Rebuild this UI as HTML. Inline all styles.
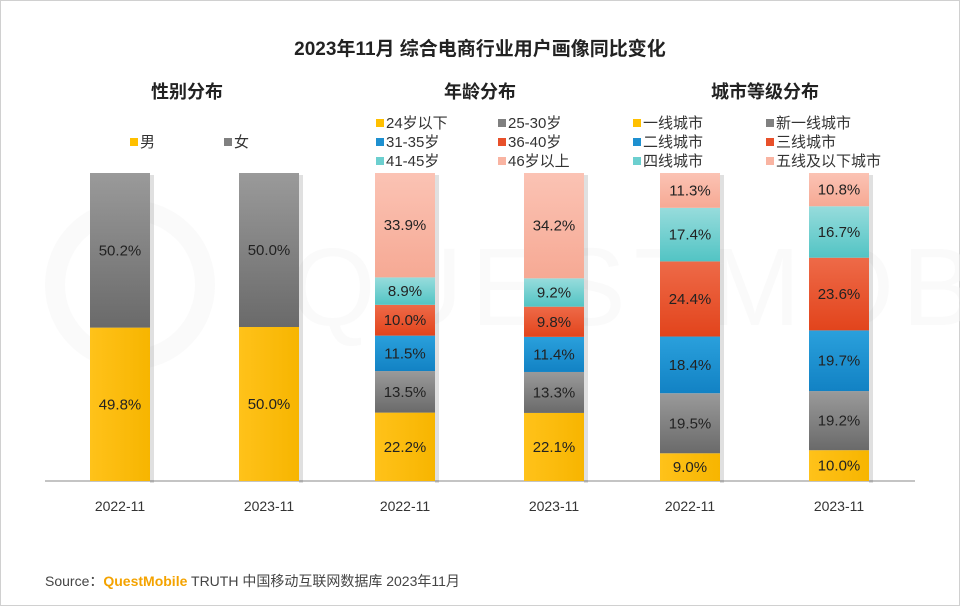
<!DOCTYPE html>
<html><head><meta charset="utf-8">
<style>
body{margin:0;background:#fff;}
svg{display:block;font-family:"Liberation Sans","Noto Sans CJK SC",sans-serif;}
</style></head>
<body>
<svg id="c" width="960" height="606" xmlns="http://www.w3.org/2000/svg">
<defs>
<linearGradient id="gY" x1="0" y1="0" x2="1" y2="0"><stop offset="0" stop-color="#FFC21A"/><stop offset="1" stop-color="#F7B500"/></linearGradient>
<linearGradient id="gG" x1="0" y1="0" x2="0" y2="1"><stop offset="0" stop-color="#9a9a9a"/><stop offset="1" stop-color="#6a6a6a"/></linearGradient>
<linearGradient id="gB" x1="0" y1="0" x2="0" y2="1"><stop offset="0" stop-color="#2aa0dc"/><stop offset="1" stop-color="#1282c4"/></linearGradient>
<linearGradient id="gR" x1="0" y1="0" x2="0" y2="1"><stop offset="0" stop-color="#ee6a48"/><stop offset="1" stop-color="#e2441c"/></linearGradient>
<linearGradient id="gT" x1="0" y1="0" x2="0" y2="1"><stop offset="0" stop-color="#97dcdc"/><stop offset="1" stop-color="#52c4c4"/></linearGradient>
<linearGradient id="gP" x1="0" y1="0" x2="0" y2="1"><stop offset="0" stop-color="#fbc3b4"/><stop offset="1" stop-color="#f6a994"/></linearGradient>
</defs>
<rect x="0.5" y="0.5" width="959" height="605" fill="#fff" stroke="#d0d0d0"/>
<g opacity="0.45">
<circle cx="130" cy="285" r="75" fill="none" stroke="#f3f3f3" stroke-width="20"/>
<text x="290" y="325" font-size="110" fill="#f5f5f5" letter-spacing="8">QUESTMOBILE</text>
</g>
<text x="480" y="55" text-anchor="middle" font-size="19" font-weight="bold" fill="#222">2023年11月 综合电商行业用户画像同比变化</text>
<g id="plot"></g>
<text x="45" y="586" font-size="14" fill="#444">Source：<tspan fill="#F4A300" font-weight="bold">QuestMobile</tspan> TRUTH 中国移动互联网数据库 2023年11月</text>
</svg>
<script>
const years = ["2022-11","2023-11"];
const genderCats = ["男","女"];
const gender2022 = [49.8,50.2];
const gender2023 = [50.0,50.0];
const ageCats = ["24岁以下","25-30岁","31-35岁","36-40岁","41-45岁","46岁以上"];
const age2022 = [22.2,13.5,11.5,10.0,8.9,33.9];
const age2023 = [22.1,13.3,11.4,9.8,9.2,34.2];
const cityCats = ["一线城市","新一线城市","二线城市","三线城市","四线城市","五线及以下城市"];
const city2022 = [9.0,19.5,18.4,24.4,17.4,11.3];
const city2023 = [10.0,19.2,19.7,23.6,16.7,10.8];
const panelTitles = ["性别分布","年龄分布","城市等级分布"];

const NS="http://www.w3.org/2000/svg";
const g=document.getElementById('plot');
const fills=["url(#gY)","url(#gG)","url(#gB)","url(#gR)","url(#gT)","url(#gP)"];
const sw=["#FFC000","#808080","#1E90D0","#E8502A","#6CCFCF","#F9B4A2"];
const base=481, top0=173, H=base-top0;
const yScale=v=>H*v/100;
function el(t,a,txt){const e=document.createElementNS(NS,t);for(const k in a)e.setAttribute(k,a[k]);if(txt!=null)e.textContent=txt;g.appendChild(e);return e;}

const ax=el('line',{x1:45,x2:915,y1:base,y2:base,stroke:'#888','stroke-width':1});



const panels=[
 {cats:genderCats,data:[gender2022,gender2023],xs:[90,239],title:187,legend:[[140,142],[234,142]]},
 {cats:ageCats,data:[age2022,age2023],xs:[375,524],title:480},
 {cats:cityCats,data:[city2022,city2023],xs:[660,809],title:765}
];
const legendCols=[[386,508],[643,776]];
panels.forEach((p,pi)=>{
  const t=el('text',{x:p.title,y:98,'text-anchor':'middle','font-size':18,'font-weight':'bold',fill:'#222'},panelTitles[pi]);
  
  
  p.data.forEach((vals,bi)=>{
    const x=p.xs[bi];
    let y=base;
    vals.forEach((v,si)=>{
      const h=yScale(v);
      y-=h;
      const sh=el('rect',{x:x+60,y:y+2,width:4,height:h,fill:'#000',opacity:0.12});
      
      
      const r=el('rect',{x:x,y:y,width:60,height:h,fill:fills[si]});
      
      
      const lb=el('text',{x:x+30,y:y+h/2+5,'text-anchor':'middle','font-size':15,fill:'#222'},v.toFixed(1)+'%');
      
      
    });
    const tk=el('text',{x:x+30,y:511,'text-anchor':'middle','font-size':14,fill:'#333'},years[bi]);
    
    
  });
  p.cats.forEach((c,ci)=>{
    let lx,ly;
    if(pi===0){lx=p.legend[ci][0];ly=p.legend[ci][1];}
    else{lx=legendCols[pi-1][ci%2];ly=123+Math.floor(ci/2)*19;}
    const s=el('rect',{x:lx-10,y:ly-4,width:8,height:8,fill:sw[ci]});
    
    
    const lt=el('text',{x:lx,y:ly+5,'font-size':15,fill:'#333'},c);
    
    
  });
});
</script>
</body></html>
